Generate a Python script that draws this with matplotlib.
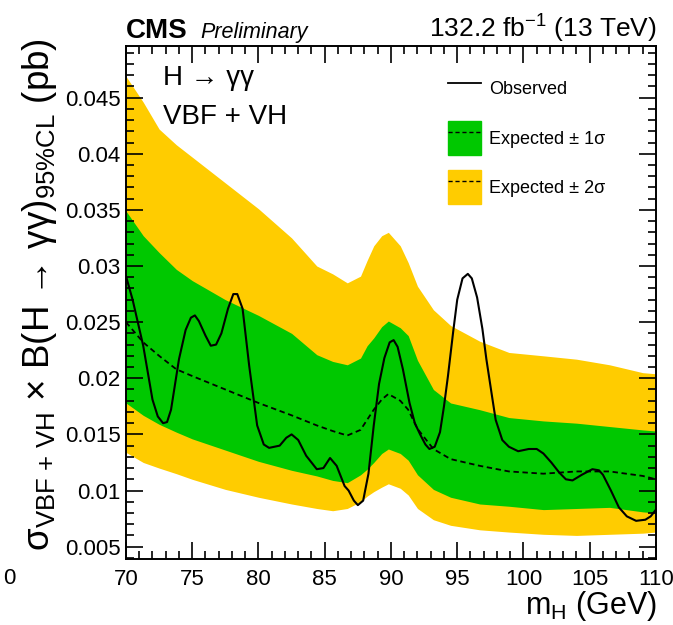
import numpy as np
import matplotlib
matplotlib.use("Agg")
from matplotlib import pyplot as plt
from matplotlib.lines import Line2D
from matplotlib.patches import Patch
from matplotlib.ticker import MultipleLocator, FuncFormatter

plt.rcParams['font.family'] = ['Liberation Sans', 'DejaVu Sans']
plt.rcParams['mathtext.fontset'] = 'custom'
plt.rcParams['mathtext.rm'] = 'Liberation Sans'
plt.rcParams['mathtext.it'] = 'Liberation Sans:italic'
plt.rcParams['mathtext.bf'] = 'Liberation Sans:bold'

# expected limit and bands (GeV, pb)
mass_band = [70, 71.3, 72.5, 73.8, 75, 77.5, 80, 82.5, 84.4, 85.6, 86.7, 87.7, 88.2, 88.7,
             89.3, 89.8, 90.7, 91.3, 92, 93.2, 94.5, 96.7, 98.9, 101.5, 104, 106.5, 109, 110]
exp_2up = [0.0469, 0.0446, 0.0422, 0.0408, 0.0397, 0.0374, 0.0351, 0.0325, 0.0300, 0.0293, 0.0285,
           0.0291, 0.0305, 0.0318, 0.0327, 0.0330, 0.0318, 0.0303, 0.0282, 0.0261, 0.0247, 0.0233,
           0.0223, 0.0220, 0.0217, 0.0212, 0.0205, 0.0204]
exp_1up = [0.0349, 0.0327, 0.0312, 0.0297, 0.0287, 0.0270, 0.0256, 0.0240, 0.0221, 0.0215, 0.0212,
           0.0218, 0.0229, 0.0236, 0.0246, 0.0251, 0.0245, 0.0238, 0.0216, 0.0190, 0.0178, 0.0172,
           0.0165, 0.0162, 0.0160, 0.0157, 0.0154, 0.0153]
exp_med = [0.0250, 0.0232, 0.0220, 0.0208, 0.0202, 0.0190, 0.0178, 0.0167, 0.0158, 0.0153, 0.0149,
           0.0154, 0.0163, 0.0172, 0.0181, 0.0186, 0.0180, 0.0172, 0.0155, 0.0137, 0.0128, 0.0122,
           0.0117, 0.0115, 0.0117, 0.0117, 0.0113, 0.0110]
exp_1dn = [0.0178, 0.0167, 0.0159, 0.0152, 0.0146, 0.0136, 0.0126, 0.0118, 0.0113, 0.0109, 0.0107,
           0.0114, 0.0119, 0.0125, 0.0133, 0.0137, 0.0133, 0.0127, 0.0114, 0.0101, 0.0094, 0.0088,
           0.0086, 0.0083, 0.0084, 0.0085, 0.0081, 0.0080]
exp_2dn = [0.0134, 0.0125, 0.0120, 0.0115, 0.0110, 0.0101, 0.0094, 0.0088, 0.0084, 0.0082, 0.0084,
           0.0090, 0.0095, 0.0099, 0.0103, 0.0106, 0.0102, 0.0096, 0.0084, 0.0074, 0.0069, 0.0065,
           0.0063, 0.0061, 0.0060, 0.0061, 0.0062, 0.0063]

# observed limit
mass_obs = [70, 70.5, 71.3, 72.0, 72.4, 72.8, 73.1, 73.4, 74.0, 74.5, 74.9, 75.2, 75.5, 76.0, 76.4,
            76.8, 77.2, 77.7, 78.1, 78.4, 78.8, 79.3, 79.9, 80.4, 80.8, 81.6, 82.1, 82.5, 83.0,
            83.6, 84.4, 84.9, 85.4, 85.9, 86.5, 86.8, 87.2, 87.5, 87.9, 88.3, 88.7, 89.1, 89.5,
            89.9, 90.2, 90.5, 90.9, 91.4, 91.8, 92.2, 92.6, 92.9, 93.3, 93.7, 94.0, 94.3, 94.7,
            95.0, 95.4, 95.8, 96.1, 96.5, 96.9, 97.2, 97.6, 97.9, 98.4, 98.9, 99.6, 100.4, 101.0,
            101.5, 102.1, 102.7, 103.2, 103.7, 104.4, 105.2, 105.7, 106.0, 106.6, 107.2, 107.8,
            108.5, 109.2, 109.6, 110]
obs = [0.0291, 0.0270, 0.0229, 0.0181, 0.0166, 0.0160, 0.0161, 0.0172, 0.0217, 0.0243, 0.0254,
       0.0256, 0.0251, 0.0238, 0.0229, 0.0230, 0.0240, 0.0262, 0.0275, 0.0275, 0.0262, 0.0211,
       0.0158, 0.0141, 0.0138, 0.0140, 0.0147, 0.0150, 0.0145, 0.0131, 0.0119, 0.0120, 0.0129,
       0.0122, 0.0104, 0.0100, 0.0091, 0.0087, 0.0091, 0.0115, 0.0158, 0.0195, 0.0218, 0.0232,
       0.0234, 0.0228, 0.0208, 0.0178, 0.0160, 0.0150, 0.0141, 0.0137, 0.0139, 0.0152, 0.0175,
       0.0202, 0.0242, 0.0270, 0.0289, 0.0293, 0.0289, 0.0272, 0.0244, 0.0217, 0.0186, 0.0163,
       0.0145, 0.0139, 0.0135, 0.0137, 0.0137, 0.0133, 0.0125, 0.0116, 0.0110, 0.0109, 0.0114,
       0.0119, 0.0118, 0.0114, 0.0100, 0.0085, 0.0077, 0.0073, 0.0074, 0.0077, 0.0083]

yellow = '#ffcc00'
green = '#00c800'

fig = plt.figure(figsize=(6.73, 6.25), dpi=100)
ax = fig.add_axes([0.1872, 0.1056, 0.7875, 0.8208])

ax.fill_between(mass_band, exp_2dn, exp_2up, color=yellow, lw=0)
ax.fill_between(mass_band, exp_1dn, exp_1up, color=green, lw=0)
ax.plot(mass_band, exp_med, color='black', ls=(0, (3, 2)), lw=1.3)
ax.plot(mass_obs, obs, color='black', lw=1.5)

ax.set_xlim(70, 110)
ax.set_ylim(0.0039, 0.0496)
ax.xaxis.set_major_locator(MultipleLocator(5))
ax.xaxis.set_minor_locator(MultipleLocator(1))
ax.yaxis.set_major_locator(MultipleLocator(0.005))
ax.yaxis.set_minor_locator(MultipleLocator(0.001))
ax.yaxis.set_major_formatter(FuncFormatter(lambda v, p: '%g' % round(v, 4)))
ax.tick_params(which='both', direction='in', top=True, right=True, labelsize=16, width=1.2)
ax.tick_params(which='major', length=12)
ax.tick_params(axis='x', which='major', pad=7)
ax.tick_params(axis='y', which='major', pad=4)
ax.tick_params(which='minor', length=6)
for s in ax.spines.values():
    s.set_linewidth(1.4)

# legend
dash = Line2D([], [], color='black', ls=(0, (3, 2)), lw=1)
handles = [Line2D([], [], color='black', lw=1.3),
           (Patch(color=green), dash),
           (Patch(color=yellow), dash)]
labels = ['Observed', 'Expected \u00b1 1\u03c3', 'Expected \u00b1 2\u03c3']
ax.legend(handles, labels, loc='upper left', bbox_to_anchor=(0.58, 0.978), frameon=False,
          fontsize=13, handlelength=1.85, handleheight=2.55, labelspacing=0.82, handletextpad=0.45,
          borderpad=0.3)

ax.text(0.07, 0.937, 'H \u2192 \u03b3\u03b3', transform=ax.transAxes, fontsize=20, va='center')
ax.text(0.07, 0.862, 'VBF + VH', transform=ax.transAxes, fontsize=20, va='center')

fig.text(126 / 673, 1 - 38 / 625, 'CMS', fontsize=20, fontweight='bold', va='baseline')
fig.text(200 / 673, 1 - 38 / 625, 'Preliminary', fontsize=15.5, style='italic', va='baseline')
fig.text(657 / 673, 1 - 38 / 625, r'132.2 fb$^{-1}$ (13 TeV)', fontsize=19, ha='right', va='baseline')

fig.text(657 / 673, 1 - 606 / 625, r'm$_{\rm H}$ (GeV)', fontsize=22, ha='right', va='center')
fig.text(40 / 673, 1 - 38 / 625,
         '\u03c3$_{\\rm VBF\\,+\\,VH}$ \u00d7 B(H \u2192 \u03b3\u03b3)$_{\\rm 95\\%CL}$ (pb)',
         fontsize=26.5, rotation=90, ha='center', va='top')
fig.text(3 / 673, 1 - 578 / 625, '0', fontsize=16, va='center')

fig.savefig('out.png', dpi=100)
